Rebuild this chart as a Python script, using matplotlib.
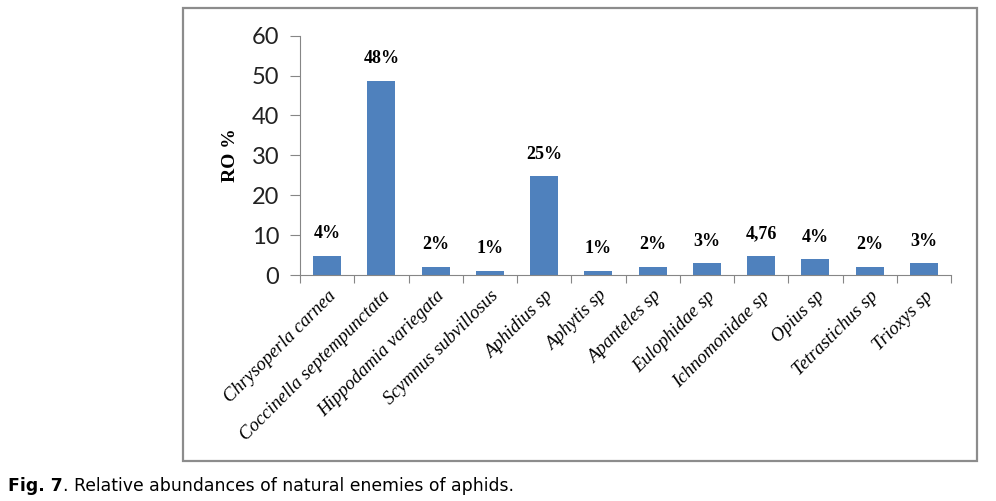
import numpy as np
import matplotlib.pyplot as plt
from matplotlib.patches import Rectangle

# data
species = ["Chrysoperla carnea", "Coccinella septempunctata", "Hippodamia variegata",
           "Scymnus subvillosus", "Aphidius sp", "Aphytis sp", "Apanteles sp",
           "Eulophidae sp", "Ichnomonidae sp", "Opius sp", "Tetrastichus sp", "Trioxys sp"]
ro = [4.76, 48.6, 2.0, 1.0, 24.7, 1.05, 2.0, 2.9, 4.8, 3.9, 2.0, 2.9]
labels = ["4%", "48%", "2%", "1%", "25%", "1%", "2%", "3%", "4,76", "4%", "2%", "3%"]

fig = plt.figure(figsize=(9.96, 5.01), dpi=100)

# outer frame around the chart
fig.patches.append(Rectangle((183/996, 1-461/501), (977-183)/996, (461-8)/501,
                             transform=fig.transFigure, fill=False,
                             edgecolor='#8c8c8c', linewidth=1.6))

ax = fig.add_axes([300/996, 1-275/501, (951-300)/996, (275-35.7)/501])

x = np.arange(len(species))
ax.bar(x, ro, width=0.52, color='#4f81bd')

for xi, v, lab in zip(x, ro, labels):
    ax.annotate(lab, (xi, v), xytext=(0, 10), textcoords='offset points',
                ha='center', va='bottom', fontsize=13, fontweight='bold',
                family='Liberation Serif')

ax.set_xlim(-0.5, len(species) - 0.5)
ax.set_ylim(0, 60)
ax.set_yticks(range(0, 61, 10))
ax.tick_params(axis='y', labelsize=17, length=7, color='#868686', pad=8)
for t in ax.get_yticklabels():
    t.set_family('Lato')
    t.set_color('#222222')

# category ticks between bars, labels at bar centres
ax.set_xticks(np.arange(-0.5, len(species)), minor=False)
ax.set_xticklabels([])
ax.tick_params(axis='x', length=6, color='#868686')
ax.set_xticks(x, minor=True)
ax.set_xticklabels(species, minor=True, rotation=45, ha='right',
                   rotation_mode='anchor', fontsize=13.5, style='italic',
                   family='Liberation Serif')
ax.tick_params(axis='x', which='minor', length=0, pad=9)

for s in ['top', 'right']:
    ax.spines[s].set_visible(False)
for s in ['left', 'bottom']:
    ax.spines[s].set_color('#868686')

ax.set_ylabel("RO %", fontsize=14, fontweight='bold', family='Liberation Serif',
              labelpad=9)

t1 = fig.text(8/996, 1-491/501, "Fig. 7", fontsize=12.4, fontweight='bold',
              family='DejaVu Sans', va='baseline')
plt.annotate(". Relative abundances of natural enemies of aphids.", xy=(1, 0),
             xycoords=t1, xytext=(0, 0), textcoords='offset points',
             fontsize=12.4, family='DejaVu Sans', va='bottom', annotation_clip=False)

fig.savefig("out.png", dpi=100)
